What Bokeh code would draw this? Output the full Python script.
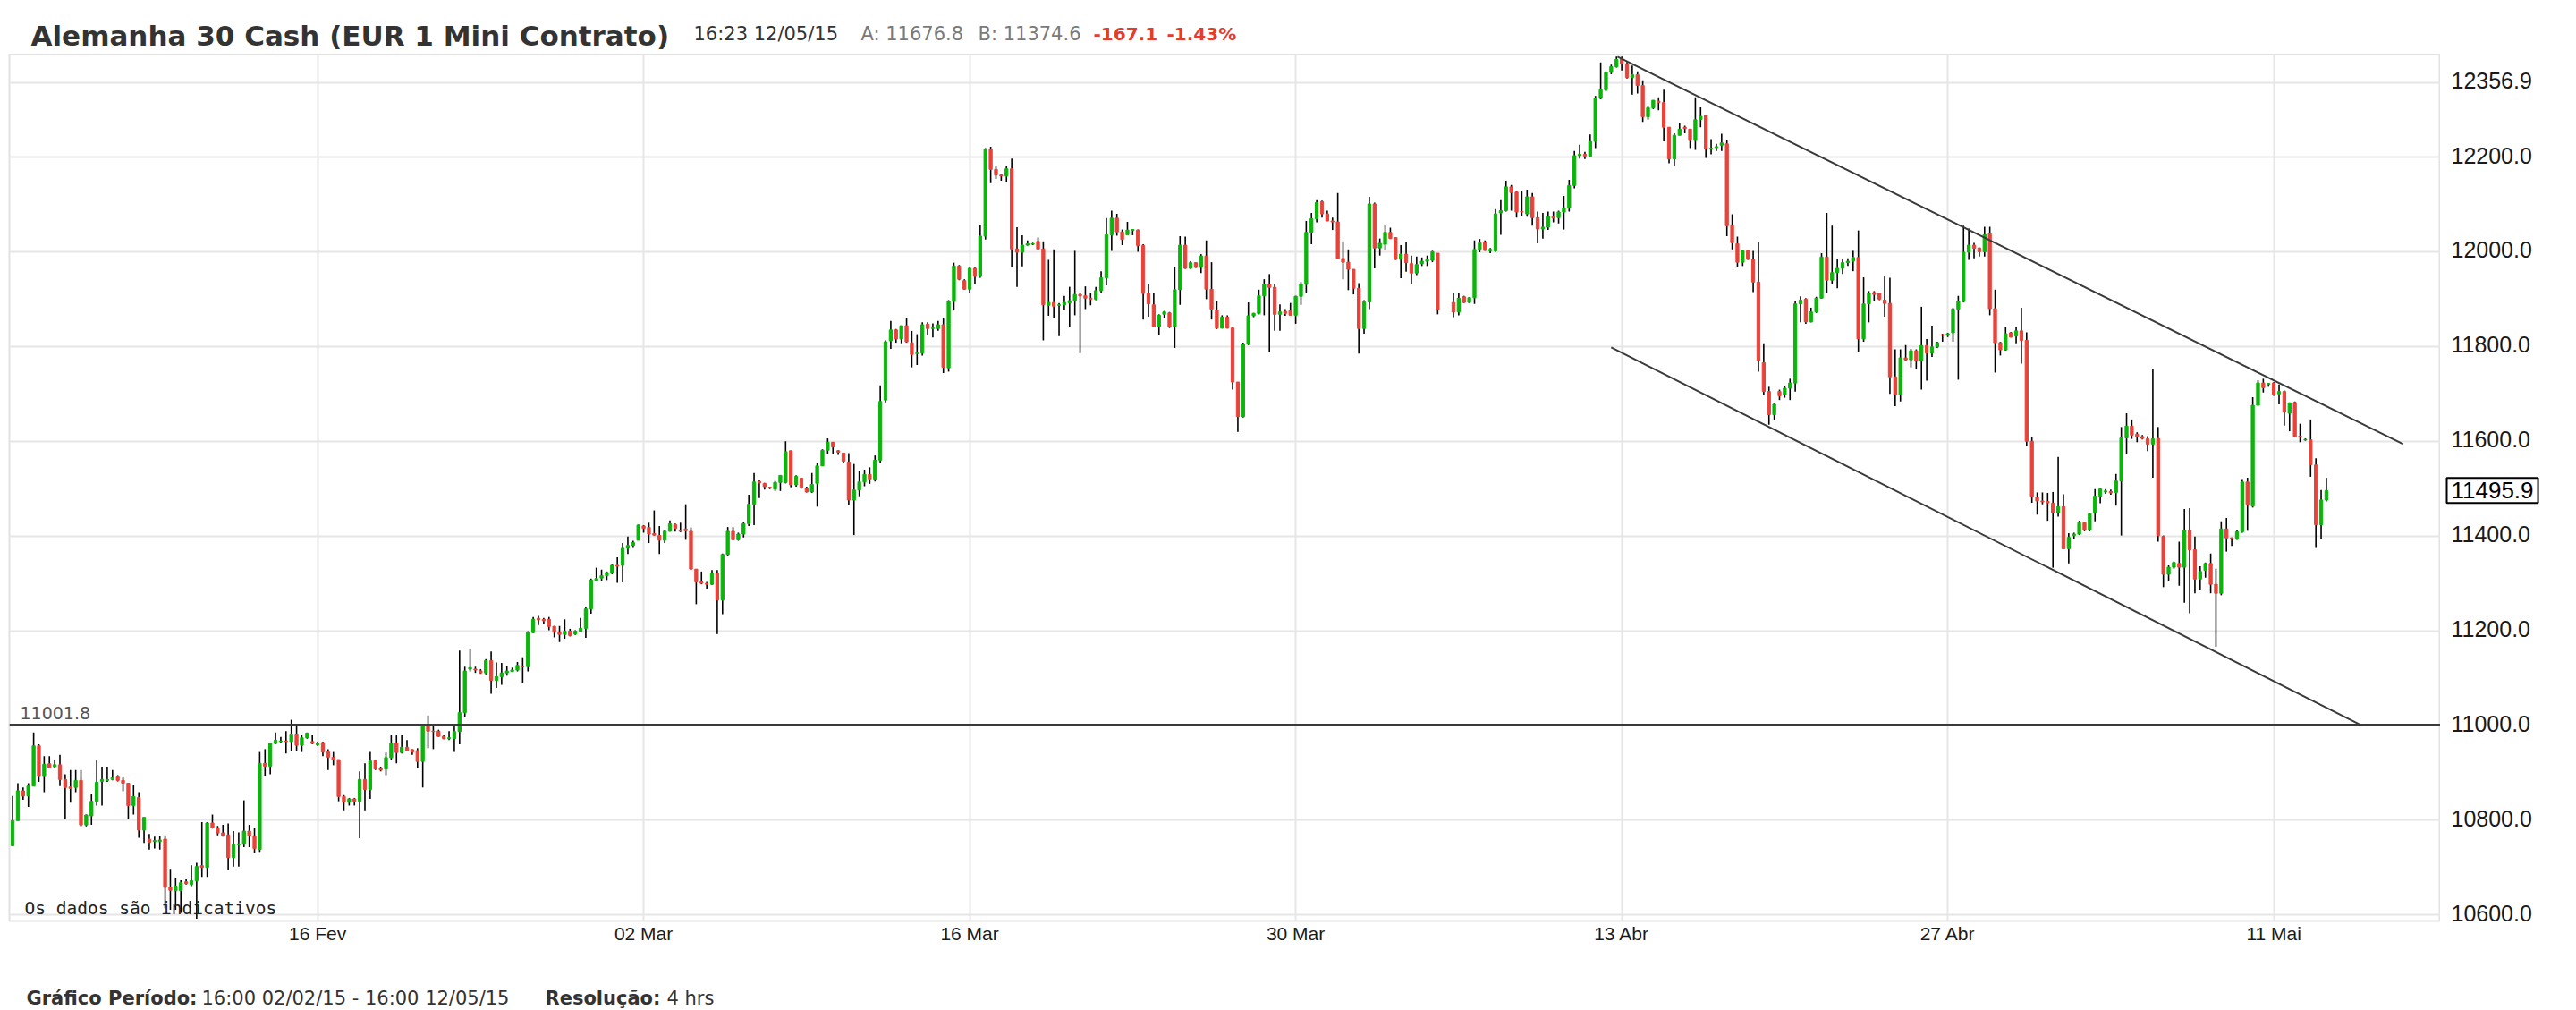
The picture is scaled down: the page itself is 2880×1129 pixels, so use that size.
from bokeh.plotting import figure
from bokeh.layouts import column, row
from bokeh.models import ColumnDataSource, Range1d, FixedTicker, Span, Label
from bokeh.core.properties import value
from bokeh.embed import file_html
from bokeh.resources import INLINE

# ---------------- data (4h candles, Germany 30 Cash) ----------------
opens = [
    10746,10799,10862,10851,10872,10957,10894,10919,10913,10917,
    10886,10870,10869,10884,10790,10809,10840,10882,10884,10886,
    10893,10884,10878,10831,10848,10779,10760,10755,10755,10760,
    10658,10651,10651,10670,10664,10672,10704,10700,10794,10784,
    10773,10769,10721,10748,10749,10777,10767,10738,10920,10914,
    10962,10966,10967,10966,10980,10958,10974,10966,10959,10964,
    10944,10933,10928,10850,10838,10845,10840,10886,10865,10926,
    10909,10908,10932,10963,10943,10954,10949,10947,10924,11001,
    10988,10988,10977,10972,10972,10987,11027,11119,11119,11115,
    11111,11137,11095,11103,11111,11114,11117,11125,11124,11196,
    11226,11224,11224,11209,11197,11192,11199,11193,11199,11205,
    11246,11306,11311,11316,11322,11338,11338,11374,11380,11391,
    11421,11418,11405,11401,11391,11410,11424,11411,11415,11410,
    11330,11303,11300,11298,11322,11265,11361,11410,11392,11404,
    11426,11467,11515,11511,11503,11499,11513,11513,11580,11508,
    11522,11501,11493,11511,11548,11581,11598,11580,11575,11556,
    11476,11497,11514,11530,11520,11560,11687,11812,11835,11816,
    11844,11808,11785,11786,11847,11838,11838,11846,11755,11895,
    11970,11939,11921,11965,11948,12033,12216,12174,12162,12160,
    12175,12006,11999,12014,12016,12022,12006,11887,11893,11887,
    11888,11892,11897,11910,11907,11902,11900,11918,11945,12036,
    12071,12042,12036,12045,12046,12013,11912,11888,11842,11868,
    11871,11842,11920,12014,11965,11977,11967,11991,11921,11877,
    11839,11862,11839,11725,11652,11805,11865,11870,11907,11931,
    11925,11868,11874,11876,11866,11906,11931,12041,12070,12106,
    12080,12065,12063,11986,11978,11963,11923,11838,11894,12101,
    12008,12016,12041,12030,11984,11995,11975,11955,11975,11980,
    11982,11997,None,None,11893,11873,11905,11893,11903,12005,
    12021,12002,12002,12082,12087,12137,12126,12085,12080,12116,
    12072,12048,12052,12074,12072,12084,12093,12140,12203,12206,
    12202,12233,12324,12342,12379,12391,12408,12397,12368,12374,
    12351,12285,12304,12318,12315,12263,12196,12246,12263,12259,
    12235,12279,12288,12217,12220,12225,12228,12055,12017,11978,
    12002,11984,11936,11766,11705,11656,11705,11698,11712,11723,
    11890,11900,11852,11873,11902,11989,11940,11956,11965,11977,
    11980,11988,11816,11890,11914,11912,11898,11891,11736,11698,
    11776,11772,11791,11769,11802,11786,11799,11825,11824,11829,
    11879,11895,11999,12014,12008,12000,12038,11880,11808,11793,
    11829,11822,11833,11813,11600,11482,11474,11473,11469,11449,
    11462,11373,11401,11404,11428,11413,11448,11484,11493,11494,
    11492,11516,11607,11632,11615,11610,11605,11594,11606,11399,
    11319,11334,11342,11334,11412,11371,11309,11327,11342,11298,
    11279,11415,11396,11394,11409,11514,11463,11676,11723,11720,
    11723,11700,11705,11659,11682,11611,11603,11603,11550,11424,11476,
]
highs = [
    10851,10878,10869,10878,10985,10960,10935,10935,10927,10938,
    10897,10906,10906,10906,10812,10856,10928,10913,10913,10906,
    10895,10891,10878,10875,10859,10806,10771,10765,10767,10768,
    10697,10678,10673,10675,10705,10710,10796,10796,10812,10788,
    10790,10793,10777,10774,10842,10790,10784,10944,10950,10963,
    10985,10976,10988,11012,10998,10979,10985,10979,10966,10966,
    10950,10944,10928,10853,10847,10847,10903,10920,10944,10928,
    10913,10943,10979,10979,10979,10969,10950,10952,11001,11021,
    11001,10991,10979,10988,10998,11158,11124,11161,11124,11119,
    11140,11156,11133,11132,11125,11122,11134,11144,11199,11229,
    11231,11227,11229,11210,11210,11224,11204,11201,11227,11249,
    11310,11333,11329,11325,11341,11355,11385,11399,11390,11424,
    11423,11428,11454,11421,11413,11433,11426,11428,11467,11418,
    11330,11325,11303,11328,11328,11363,11419,11419,11407,11429,
    11487,11533,11518,11512,11504,11516,11528,11600,11580,11528,
    11522,11504,11533,11554,11583,11606,11598,11581,11575,11575,
    11552,11537,11540,11545,11570,11718,11813,11854,11837,11844,
    11860,11833,11826,11851,11851,11849,11854,11859,11898,11977,
    11972,11942,11967,11967,12057,12219,12222,12181,12164,12181,
    12197,12052,12035,12024,12019,12030,12022,11983,12005,11892,
    11907,11926,12002,11914,11927,11914,11926,11959,12071,12087,
    12080,12047,12063,12047,12047,12016,11931,11912,11868,11875,
    11873,11967,12033,12032,11980,11978,11995,12024,11978,11896,
    11866,11866,11841,11725,11808,11893,11871,11920,11942,11953,
    11931,11889,11879,11892,11907,11936,12065,12082,12109,12108,
    12087,12072,12124,12022,12005,11963,11934,11898,12116,12104,
    12028,12057,12051,12030,12014,12021,11992,11990,11988,11992,
    12002,11997,None,None,11912,11912,11907,11904,12024,12027,
    12024,12008,12090,12109,12150,12141,12128,12128,12131,12124,
    12085,12082,12085,12085,12087,12118,12152,12213,12226,12211,
    12248,12329,12400,12381,12395,12412,12412,12401,12393,12381,
    12362,12307,12320,12326,12342,12263,12250,12271,12266,12259,
    12326,12305,12290,12238,12228,12249,12235,12079,12032,12003,
    12003,12002,12021,11807,11715,11681,11709,11717,11732,11895,
    11906,11902,11882,11905,11997,12082,12055,11984,11984,11986,
    12002,12045,11946,11917,11917,11914,11950,11945,11794,11794,
    11803,11795,11794,11884,11816,11844,11810,11827,11829,11882,
    11907,12055,12049,12019,12009,12053,12053,11920,11810,11841,
    11831,11841,11882,11830,11610,11492,11492,11491,11493,11567,
    11488,11406,11407,11432,11430,11448,11499,11501,11499,11498,
    11531,11630,11659,11646,11619,11613,11611,11753,11630,11401,
    11338,11346,11388,11457,11459,11399,11336,11344,11363,11331,
    11431,11438,11397,11413,11520,11523,11693,11729,11732,11723,
    11725,11720,11707,11682,11684,11637,11606,11646,11564,11497,11523,
]
lows = [
    10746,10799,10843,10828,10872,10881,10859,10910,10910,10872,
    10803,10837,10859,10787,10787,10790,10831,10831,10881,10884,
    10882,10861,10803,10812,10763,10752,10738,10740,10738,10614,
    10611,10611,10604,10664,10661,10592,10680,10680,10782,10768,
    10765,10695,10702,10702,10743,10743,10730,10733,10894,10897,
    10960,10963,10941,10947,10947,10944,10972,10960,10957,10935,
    10906,10916,10840,10821,10831,10831,10762,10821,10845,10906,
    10903,10895,10928,10920,10941,10945,10938,10911,10869,10952,
    10950,10976,10971,10969,10944,10960,11017,11114,11111,11109,
    11108,11067,11079,11086,11105,11114,11114,11089,11114,11195,
    11212,11215,11201,11186,11176,11183,11188,11191,11197,11185,
    11236,11304,11305,11307,11319,11301,11302,11362,11375,11391,
    11407,11385,11401,11362,11385,11409,11409,11408,11392,11330,
    11256,11298,11289,11297,11193,11235,11358,11391,11390,11397,
    11421,11423,11480,11498,11499,11495,11495,11511,11503,11504,
    11500,11492,11491,11462,11548,11572,11574,11571,11555,11465,
    11402,11484,11505,11510,11515,11555,11682,11795,11808,11807,
    11808,11756,11761,11781,11825,11819,11833,11744,11747,11876,
    11940,11920,11914,11932,11945,12026,12145,12154,12150,12147,
    11967,11926,11969,12013,12014,12005,11813,11865,11860,11822,
    11876,11841,11866,11786,11879,11887,11898,11914,11929,12002,
    12034,12014,12036,12035,12000,11857,11863,11842,11824,11860,
    11839,11797,11888,11964,11964,11966,11955,11900,11857,11837,
    11838,11838,11709,11620,11650,11803,11862,11868,11866,11789,
    11833,11833,11865,11866,11848,11888,11914,12016,12062,12072,
    12065,12046,11984,11942,11919,11910,11785,11827,11879,11965,
    11992,12003,12027,11983,11944,11958,11933,11951,11970,11970,
    11978,11868,None,None,11862,11866,11892,11892,11890,11999,
    12002,11997,12000,12036,12085,12087,12072,12076,12074,12055,
    12018,12028,12046,12062,12060,12047,12085,12134,12197,12196,
    12200,12219,12322,12339,12375,12389,12383,12366,12332,12334,
    12274,12279,12301,12299,12233,12187,12181,12246,12250,12219,
    12215,12263,12198,12206,12213,12213,12033,12005,11967,11970,
    11983,11915,11747,11698,11635,11644,11687,11692,11687,11705,
    11851,11848,11851,11871,11901,11912,11931,11923,11953,11970,
    11959,11788,11810,11851,11895,11898,11863,11700,11674,11684,
    11770,11756,11753,11709,11728,11778,11797,11810,11820,11810,
    11730,11893,11983,11986,11990,11990,11866,11745,11781,11791,
    11819,11807,11764,11590,11470,11445,11467,11432,11333,11441,
    11372,11342,11394,11402,11410,11410,11431,11469,11489,11487,
    11464,11401,11574,11605,11598,11604,11579,11523,11388,11292,
    11304,11331,11295,11259,11237,11279,11287,11312,11279,11166,
    11275,11367,11379,11392,11407,11411,11460,11676,11703,11715,
    11696,11678,11633,11621,11608,11598,11601,11525,11375,11394,11473,
]
closes = [
    10799,10862,10851,10872,10957,10894,10918,10911,10917,10886,
    10869,10867,10884,10790,10811,10840,10880,10886,10886,10890,
    10884,10878,10831,10850,10779,10806,10753,10757,10758,10658,
    10652,10661,10668,10666,10672,10702,10700,10794,10784,10773,
    10768,10721,10748,10750,10777,10767,10740,10920,10914,10962,
    10969,10967,10966,10980,10958,10974,10984,10962,10962,10944,
    10933,10928,10850,10838,10845,10840,10886,10865,10925,10908,
    10906,10932,10962,10943,10954,10947,10944,10924,11001,10988,
    10987,10977,10972,10974,10987,11027,11115,11122,11117,11111,
    11137,11095,11103,11111,11115,11117,11127,11124,11196,11224,
    11223,11221,11209,11197,11192,11199,11190,11199,11205,11246,
    11307,11310,11316,11323,11338,11336,11374,11380,11386,11423,
    11416,11404,11402,11391,11410,11426,11416,11410,11411,11330,
    11303,11300,11298,11322,11265,11361,11410,11392,11404,11426,
    11467,11514,11512,11504,11501,11513,11528,11578,11508,11526,
    11503,11493,11509,11548,11581,11598,11588,11577,11558,11476,
    11497,11514,11530,11520,11560,11684,11810,11835,11816,11844,
    11810,11783,11786,11846,11838,11839,11846,11756,11895,11970,
    11942,11921,11965,11948,12033,12216,12174,12162,12160,12175,
    12006,11999,12014,12017,12017,12006,11888,11893,11885,11888,
    11893,11897,11910,11907,11902,11900,11918,11945,12036,12071,
    12042,12026,12046,12047,12013,11912,11890,11842,11866,11873,
    11842,11920,12014,11965,11977,11967,11991,11921,11879,11839,
    11862,11839,11725,11652,11805,11865,11870,11907,11931,11925,
    11868,11873,11870,11866,11906,11931,12041,12070,12104,12080,
    12065,12063,11986,11978,11963,11923,11838,11894,12101,12008,
    12018,12041,12028,11984,11995,11977,11955,11973,11980,11983,
    12000,11878,None,None,11873,11902,11893,11903,12005,12019,
    12003,12005,12080,12087,12137,12125,12084,12084,12116,12072,
    12048,12052,12075,12071,12084,12093,12140,12203,12206,12202,
    12233,12324,12342,12379,12391,12406,12397,12368,12374,12351,
    12285,12304,12320,12315,12263,12196,12246,12259,12260,12235,
    12279,12286,12217,12219,12222,12230,12055,12019,11978,12002,
    11984,11936,11770,11705,11656,11678,11696,11712,11723,11890,
    11898,11852,11873,11902,11989,11940,11956,11965,11977,11980,
    11988,11816,11890,11912,11910,11900,11891,11736,11698,11776,
    11772,11791,11769,11802,11786,11799,11808,11824,11827,11879,
    11895,11999,12014,12007,12000,12036,11880,11808,11793,11827,
    11820,11833,11813,11600,11482,11474,11472,11470,11449,11462,
    11373,11397,11404,11428,11413,11447,11484,11499,11495,11491,
    11516,11607,11632,11613,11610,11606,11594,11605,11401,11319,
    11334,11344,11334,11412,11371,11309,11325,11342,11298,11279,
    11415,11396,11394,11409,11514,11465,11676,11723,11713,11722,
    11698,11705,11662,11681,11610,11609,11604,11550,11424,11476,11495.9,
]

tick_bars = [58, 120, 182, 244, 306, 368, 430]
tick_labels = ["16 Fev", "02 Mar", "16 Mar", "30 Mar", "13 Abr", "27 Abr", "11 Mai"]
price_ticks = [10600, 10800, 11000, 11200, 11400, 11600, 11800, 12000, 12200, 12356.9]
support_level = 11001.8
last_price = 11495.9
upper_trend_x = [305.2, 454.6]
upper_trend_y = [12412, 11594]
lower_trend_x = [304.0, 446.7]
lower_trend_y = [11798, 11000]

GREEN = "#0bb50b"
RED = "#e8433a"
DARK = "#333333"

# ---------------- layout geometry (page px) ----------------
W, H = 2880, 1128
HEAD_H = 60
FOOT_H = 38
MAIN_H = H - HEAD_H - FOOT_H
FRAME_L, FRAME_R = 10, 2728
FRAME_H = 969

# ---------------- main chart ----------------
idx = [i for i in range(len(opens)) if opens[i] is not None]
o = [opens[i] for i in idx]
h = [highs[i] for i in idx]
l = [lows[i] for i in idx]
c = [closes[i] for i in idx]
src = ColumnDataSource(dict(
    x=idx, open=o, high=h, low=l, close=c,
    top=[max(a, b) for a, b in zip(o, c)],
    bottom=[min(a, b) for a, b in zip(o, c)],
    color=[GREEN if b >= a else RED for a, b in zip(o, c)],
))

yr = Range1d(10587.2, 12417.3)
p = figure(width=FRAME_R, height=MAIN_H,
           x_range=Range1d(-0.61, 461.7), y_range=yr,
           y_axis_location=None, toolbar_location=None, output_backend="svg",
           min_border_left=FRAME_L, min_border_right=0, min_border_top=0,
           min_border_bottom=MAIN_H - FRAME_H)
p.background_fill_color = "white"
p.border_fill_color = "white"
p.outline_line_color = "#e2e2e2"
p.outline_line_width = 2

xa = p.xaxis[0]
xa.ticker = FixedTicker(ticks=tick_bars)
xa.major_label_overrides = {t: s for t, s in zip(tick_bars, tick_labels)}
xa.axis_line_color = None
xa.major_tick_line_color = None
xa.minor_tick_line_color = None
xa.major_tick_out = 0
xa.major_tick_in = 0
xa.minor_tick_out = 0
xa.major_label_text_font = "Liberation Sans"
xa.major_label_text_color = "#1a1a1a"
xa.major_label_text_font_size = "21px"
xa.major_label_standoff = 2

p.ygrid[0].ticker = FixedTicker(ticks=price_ticks)
for g in (p.xgrid[0], p.ygrid[0]):
    g.grid_line_color = "#e6e6e6"
    g.grid_line_width = 2

p.segment(x0="x", y0="low", x1="x", y1="high", source=src, line_color="black", line_width=1.6)
p.vbar(x="x", width=0.56, top="top", bottom="bottom", source=src,
       fill_color="color", line_color="color", line_width=1)

p.add_layout(Span(location=support_level, dimension="width", line_color="#3a3a3a", line_width=2))
p.line(upper_trend_x, upper_trend_y, line_color="#3a3a3a", line_width=2)
p.line(lower_trend_x, lower_trend_y, line_color="#3a3a3a", line_width=2)

p.add_layout(Label(x=12, y=support_level, x_units="screen", y_units="data",
                   text="%.1f" % support_level, text_font="DejaVu Sans", text_font_size="19px",
                   text_color="#555555", text_baseline="bottom", y_offset=6))
p.add_layout(Label(x=17, y=14, x_units="screen", y_units="screen",
                   text="Os dados são indicativos", text_font="DejaVu Sans Mono",
                   text_font_size="19.5px", text_color="#222222", text_baseline="alphabetic"))

# ---------------- right price scale (shares the price range) ----------------
RIGHT_W = W - FRAME_R
pr = figure(width=RIGHT_W, height=MAIN_H, x_range=Range1d(0, RIGHT_W), y_range=yr,
            x_axis_location=None, y_axis_location=None, toolbar_location=None,
            output_backend="svg", min_border_left=0, min_border_right=0,
            min_border_top=0, min_border_bottom=MAIN_H - FRAME_H)
pr.outline_line_color = None
pr.grid.visible = False
pr.text(x=[12] * len(price_ticks), y=price_ticks, text=["%.1f" % v for v in price_ticks],
        text_font=value("Liberation Sans"), text_font_size="25px", text_color="#1a1a1a",
        text_baseline="middle", text_align="left", y_offset=-2)
pr.add_layout(Label(x=7, y=last_price, x_units="data", y_units="data", text="%.1f" % last_price,
                    text_font="Liberation Sans", text_font_size="26px", text_color="black",
                    text_baseline="middle", text_align="left", padding=5,
                    border_line_color="black", border_line_width=2, background_fill_color="white"))

# ---------------- header ----------------
hd = figure(width=W, height=HEAD_H, x_range=Range1d(0, W), y_range=Range1d(HEAD_H, 0),
            x_axis_location=None, y_axis_location=None, toolbar_location=None,
            output_backend="svg", min_border=0)
hd.outline_line_color = None
hd.grid.visible = False

def put(fig, text, x, y, size, color=DARK, style="normal", font="DejaVu Sans"):
    fig.add_layout(Label(x=x, y=y, text=text, text_font=font, text_font_size=size,
                         text_color=color, text_font_style=style,
                         text_baseline="alphabetic", text_align="left"))

put(hd, "Alemanha 30 Cash (EUR 1 Mini Contrato)", 34, 39, "31px", DARK, "bold")
put(hd, "16:23 12/05/15", 775, 37.5, "21px", DARK)
put(hd, "A: 11676.8", 962, 37.5, "21px", "#7a7a7a")
put(hd, "B: 11374.6", 1093, 37.5, "21px", "#7a7a7a")
put(hd, "-167.1", 1222, 37.5, "20px", "#e23c2e", "bold")
put(hd, "-1.43%", 1304, 37.5, "20px", "#e23c2e", "bold")

# ---------------- footer ----------------
ft = figure(width=W, height=FOOT_H, x_range=Range1d(0, W), y_range=Range1d(FOOT_H, 0),
            x_axis_location=None, y_axis_location=None, toolbar_location=None,
            output_backend="svg", min_border=0)
ft.outline_line_color = None
ft.grid.visible = False
FY = 1115 - (HEAD_H + MAIN_H)
put(ft, "Gráfico Período:", 29, FY, "21px", DARK, "bold")
put(ft, "16:00 02/02/15 - 16:00 12/05/15", 225, FY, "21px", DARK)
put(ft, "Resolução:", 609, FY, "21px", DARK, "bold")
put(ft, "4 hrs", 745, FY, "21px", DARK)

layout = column(hd, row(p, pr, spacing=0), ft, spacing=0)
open("out.html", "w").write(file_html(layout, INLINE))
